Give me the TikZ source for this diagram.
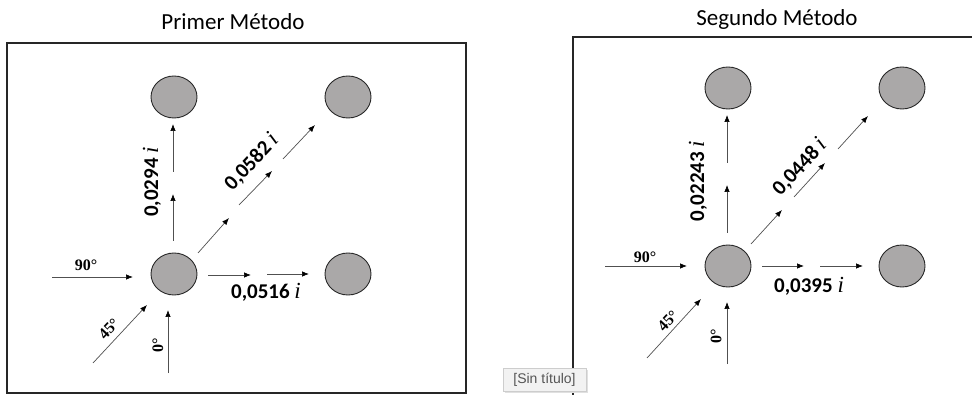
\documentclass[tikz,border=0pt]{standalone}
\usepackage{fontspec}
\setmainfont{Carlito}
\newfontfamily\serifb{Liberation Serif}
\newfontfamily\uifont{Liberation Sans}
\usetikzlibrary{shapes.geometric,arrows.meta}
\definecolor{ballfill}{RGB}{170,168,168}
\definecolor{balledge}{RGB}{40,40,40}
\definecolor{arrowgray}{RGB}{80,80,80}
\definecolor{tipfill}{RGB}{242,242,242}
\definecolor{tipedge}{RGB}{205,205,205}
\definecolor{tiptext}{RGB}{85,85,85}
\tikzset{
  ball/.style={ellipse,draw=balledge,fill=ballfill,line width=0.9pt,minimum width=46pt,minimum height=42pt,inner sep=0pt},
  arr/.style={draw=arrowgray,line width=0.7pt,-{Latex[length=7pt,width=5.5pt,color=black]}},
  frame/.style={draw=black!85,line width=1.1pt},
  title/.style={font=\fontsize{23}{27}\selectfont,inner sep=0pt},
  val/.style={font=\fontsize{21}{25}\selectfont\bfseries,inner sep=0pt},
  ang/.style={font=\fontsize{16}{19}\selectfont\serifb\bfseries,inner sep=0pt},
}
\newcommand{\iit}{{\serifb\itshape\mdseries\fontsize{23}{25}\selectfont i}}
\begin{document}
\begin{tikzpicture}[x=1pt,y=-1pt]
\useasboundingbox (0,0) rectangle (972,395);
% ---------- Left panel ----------
\node[title] (t1) at (233,22) {Primer Método};
\draw[frame] (7,43) rectangle (466,393);
\node[ball] (a1) at (174,97) {};
\node[ball] (a2) at (348,97) {};
\node[ball] (a3) at (174,274) {};
\node[ball] (a4) at (348,274) {};
% incoming
\coordinate (l90s) at (52,277); \coordinate (l90e) at (133,277);
\coordinate (l45s) at (93,363); \coordinate (l45e) at (147,305);
\coordinate (l0s) at (168,373); \coordinate (l0e) at (168,310);
\draw[arr] (l90s) -- (l90e);
\draw[arr] (l45s) -- (l45e);
\draw[arr] (l0s) -- (l0e);
\node[ang] (l90t) at (86,265) {90°};
\node[ang,rotate=47] (l45t) at (109,329) {45°};
\node[ang,rotate=90] (l0t) at (158,345) {0°};
% horizontal
\coordinate (lh1s) at (208,275); \coordinate (lh1e) at (251,275);
\coordinate (lh2s) at (267,274); \coordinate (lh2e) at (309,274);
\draw[arr] (lh1s) -- (lh1e);
\draw[arr] (lh2s) -- (lh2e);
\node[val] (lhv) at (266,292) {0,0516 \iit};
% vertical
\coordinate (lv1s) at (173,241); \coordinate (lv1e) at (173,194);
\coordinate (lv2s) at (173,172); \coordinate (lv2e) at (173,124);
\draw[arr] (lv1s) -- (lv1e);
\draw[arr] (lv2s) -- (lv2e);
\node[val,rotate=90] (lvv) at (152,182) {0,0294 \iit};
% diagonal
\coordinate (ld1s) at (198,253); \coordinate (ld1e) at (229,218);
\coordinate (ld2s) at (239,205); \coordinate (ld2e) at (272,171);
\coordinate (ld3s) at (283,159); \coordinate (ld3e) at (315,125);
\draw[arr] (ld1s) -- (ld1e);
\draw[arr] (ld2s) -- (ld2e);
\draw[arr] (ld3s) -- (ld3e);
\node[val,rotate=47] (ldv) at (252,162) {0,0582 \iit};
% ---------- Right panel ----------
\node[title] (t2) at (777,19) {Segundo Método};
\draw[frame] (573,400) -- (573,37) -- (980,37);
\node[ball] (b1) at (728,88) {};
\node[ball] (b2) at (902,88) {};
\node[ball] (b3) at (728,266) {};
\node[ball] (b4) at (902,266) {};
\coordinate (r90s) at (605,266); \coordinate (r90e) at (687,266);
\coordinate (r45s) at (647,358); \coordinate (r45e) at (701,299);
\coordinate (r0s) at (727,364); \coordinate (r0e) at (727,302);
\draw[arr] (r90s) -- (r90e);
\draw[arr] (r45s) -- (r45e);
\draw[arr] (r0s) -- (r0e);
\node[ang] (r90t) at (645,257) {90°};
\node[ang,rotate=47] (r45t) at (668,321) {45°};
\node[ang,rotate=90] (r0t) at (716,336) {0°};
\coordinate (rh1s) at (762,266); \coordinate (rh1e) at (804,266);
\coordinate (rh2s) at (820,266); \coordinate (rh2e) at (863,266);
\draw[arr] (rh1s) -- (rh1e);
\draw[arr] (rh2s) -- (rh2e);
\node[val] (rhv) at (809,286) {0,0395 \iit};
\coordinate (rv1s) at (727,233); \coordinate (rv1e) at (727,185);
\coordinate (rv2s) at (727,163); \coordinate (rv2e) at (727,115);
\draw[arr] (rv1s) -- (rv1e);
\draw[arr] (rv2s) -- (rv2e);
\node[val,rotate=90] (rvv) at (698,181) {0,02243 \iit};
\coordinate (rd1s) at (751,244); \coordinate (rd1e) at (782,210);
\coordinate (rd2s) at (794,197); \coordinate (rd2e) at (825,163);
\coordinate (rd3s) at (838,149); \coordinate (rd3e) at (868,116);
\draw[arr] (rd1s) -- (rd1e);
\draw[arr] (rd2s) -- (rd2e);
\draw[arr] (rd3s) -- (rd3e);
\node[val,rotate=47] (rdv) at (800,167) {0,0448 \iit};
% ---------- tooltip ----------
\fill[black!12] (504.5,369.5) rectangle (587.5,392.5);
\node[draw=tipedge,fill=tipfill,line width=0.6pt,minimum width=83pt,minimum height=23pt,inner sep=0pt,
      text=tiptext,font=\uifont\fontsize{14}{16}\selectfont] (tip) at (544.5,379.5) {[Sin título]};
\end{tikzpicture}
\end{document}
